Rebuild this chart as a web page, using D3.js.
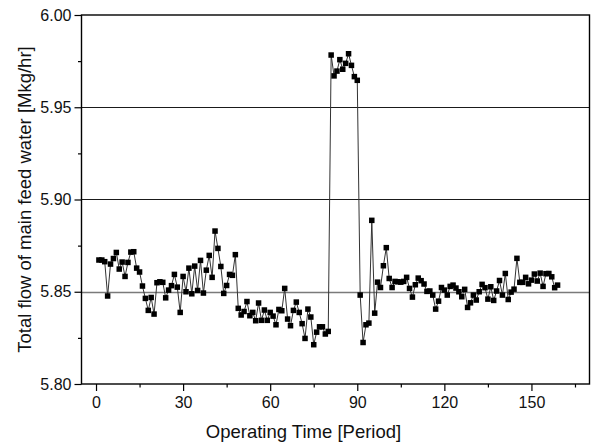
<!DOCTYPE html>
<html>
<head>
<meta charset="utf-8">
<script src="https://cdn.jsdelivr.net/npm/d3@7"></script>
<style>
  html, body { margin: 0; padding: 0; background: #fff; }
  svg { display: block; }
  text { font-family: "Liberation Sans", Arial, sans-serif; fill: #111; }
</style>
</head>
<body>
<svg id="chart" width="593" height="443"></svg>
<script>
// ---- data ----
const periodStart = 1;
const flowValues = [
  5.8672, 5.8672, 5.8663, 5.8477, 5.8650, 5.8680, 5.8713, 5.8623, 5.8661, 5.8583,
  5.8659, 5.8715, 5.8717, 5.8628, 5.8607, 5.8531, 5.8464, 5.8399, 5.8469, 5.8379,
  5.8549, 5.8554, 5.8551, 5.8467, 5.8509, 5.8533, 5.8594, 5.8525, 5.8388, 5.8583,
  5.8500, 5.8628, 5.8489, 5.8639, 5.8507, 5.8670, 5.8493, 5.8617, 5.8697, 5.8578,
  5.8829, 5.8735, 5.8637, 5.8491, 5.8534, 5.8594, 5.8589, 5.8701, 5.8410, 5.8374,
  5.8393, 5.8447, 5.8370, 5.8388, 5.8343, 5.8439, 5.8345, 5.8401, 5.8345, 5.8388,
  5.8368, 5.8321, 5.8404, 5.8397, 5.8518, 5.8352, 5.8316, 5.8399, 5.8444, 5.8388,
  5.8327, 5.8247, 5.8406, 5.8363, 5.8213, 5.8281, 5.8310, 5.8310, 5.8271, 5.8285,
  5.9783, 5.9670, 5.9696, 5.9758, 5.9706, 5.9738, 5.9790, 5.9727, 5.9666, 5.9646,
  5.8482, 5.8225, 5.8321, 5.8330, 5.8887, 5.8384, 5.8552, 5.8523, 5.8641, 5.8739,
  5.8572, 5.8523, 5.8556, 5.8554, 5.8552, 5.8556, 5.8578, 5.8518, 5.8471, 5.8538,
  5.8574, 5.8560, 5.8542, 5.8502, 5.8504, 5.8482, 5.8406, 5.8449, 5.8523, 5.8509,
  5.8482, 5.8529, 5.8536, 5.8520, 5.8500, 5.8473, 5.8513, 5.8415, 5.8440, 5.8482,
  5.8455, 5.8500, 5.8540, 5.8522, 5.8460, 5.8527, 5.8453, 5.8504, 5.8561, 5.8482,
  5.8599, 5.8458, 5.8498, 5.8514, 5.8681, 5.8551, 5.8551, 5.8578, 5.8543, 5.8563,
  5.8596, 5.8558, 5.8601, 5.8529, 5.8598, 5.8599, 5.8581, 5.8522, 5.8536
];
const xTicks = [0, 30, 60, 90, 120, 150];
const xMinorTicks = [15, 45, 75, 105, 135, 165];
const yTicks = [5.80, 5.85, 5.90, 5.95, 6.00];
const yMinorTicks = [5.825, 5.875, 5.925, 5.975];
const gridValues = [5.85, 5.90, 5.95];
const xDomain = [-5, 170];
const yDomain = [5.80, 6.00];
const xTitle = "Operating Time [Period]";
const yTitle = "Total flow of main feed water [Mkg/hr]";

const data = flowValues.map((v, i) => ({ t: periodStart + i, v }));

// ---- layout ----
const svg = d3.select("#chart");
const mLeft = 81.5, mRight = 589.5, mTop = 15, mBottom = 384;

const x = d3.scaleLinear().domain(xDomain).range([mLeft, mRight]);
const y = d3.scaleLinear().domain(yDomain).range([mBottom, mTop]);

// gridlines
svg.append("g").selectAll("line").data(gridValues).join("line")
  .attr("x1", mLeft).attr("x2", mRight)
  .attr("y1", d => Math.round(y(d)) + 0.5).attr("y2", d => Math.round(y(d)) + 0.5)
  .attr("stroke", d => d === 5.85 ? "#7a7a7a" : "#1a1a1a")
  .attr("stroke-width", d => d === 5.85 ? 1.6 : 1.1);

// frame
svg.append("rect")
  .attr("x", mLeft).attr("y", mTop)
  .attr("width", mRight - mLeft).attr("height", mBottom - mTop)
  .attr("fill", "none").attr("stroke", "#000").attr("stroke-width", 1.4);

// x axis
const xAxis = d3.axisBottom(x).tickValues(xTicks).tickFormat(d3.format("d"))
  .tickSize(7).tickPadding(6);
const gx = svg.append("g").attr("transform", `translate(0,${mBottom})`).call(xAxis);
gx.select(".domain").remove();
gx.selectAll("line").attr("stroke", "#000").attr("stroke-width", 1.2);
gx.selectAll("text").attr("font-size", 16).attr("font-family", "Liberation Sans, Arial, sans-serif").attr("fill", "#111");
const gxm = svg.append("g").attr("transform", `translate(0,${mBottom})`)
  .call(d3.axisBottom(x).tickValues(xMinorTicks).tickSize(3.5).tickFormat(""));
gxm.select(".domain").remove();
gxm.selectAll("line").attr("stroke", "#000").attr("stroke-width", 1.2);

// y axis
const yAxis = d3.axisLeft(y).tickValues(yTicks).tickFormat(d3.format(".2f"))
  .tickSize(7).tickPadding(3);
const gy = svg.append("g").attr("transform", `translate(${mLeft},0)`).call(yAxis);
gy.select(".domain").remove();
gy.selectAll("line").attr("stroke", "#000").attr("stroke-width", 1.2);
gy.selectAll("text").attr("font-size", 16).attr("font-family", "Liberation Sans, Arial, sans-serif").attr("fill", "#111");
const gym = svg.append("g").attr("transform", `translate(${mLeft},0)`)
  .call(d3.axisLeft(y).tickValues(yMinorTicks).tickSize(3.5).tickFormat(""));
gym.select(".domain").remove();
gym.selectAll("line").attr("stroke", "#000").attr("stroke-width", 1.2);

// line
const line = d3.line().x(d => x(d.t)).y(d => y(d.v));
svg.append("path").datum(data)
  .attr("d", line).attr("fill", "none")
  .attr("stroke", "#333").attr("stroke-width", 1);

// markers
const sz = 5.5;
svg.append("g").selectAll("rect").data(data).join("rect")
  .attr("x", d => x(d.t) - sz / 2).attr("y", d => y(d.v) - sz / 2)
  .attr("width", sz).attr("height", sz).attr("fill", "#000");

// titles
svg.append("text")
  .attr("x", (mLeft + mRight) / 2 - 32).attr("y", 438)
  .attr("text-anchor", "middle").attr("font-size", 18.5)
  .text(xTitle);
svg.append("text")
  .attr("transform", `translate(31,${(mTop + mBottom) / 2}) rotate(-90)`)
  .attr("text-anchor", "middle").attr("font-size", 18.5)
  .text(yTitle);
</script>
</body>
</html>
